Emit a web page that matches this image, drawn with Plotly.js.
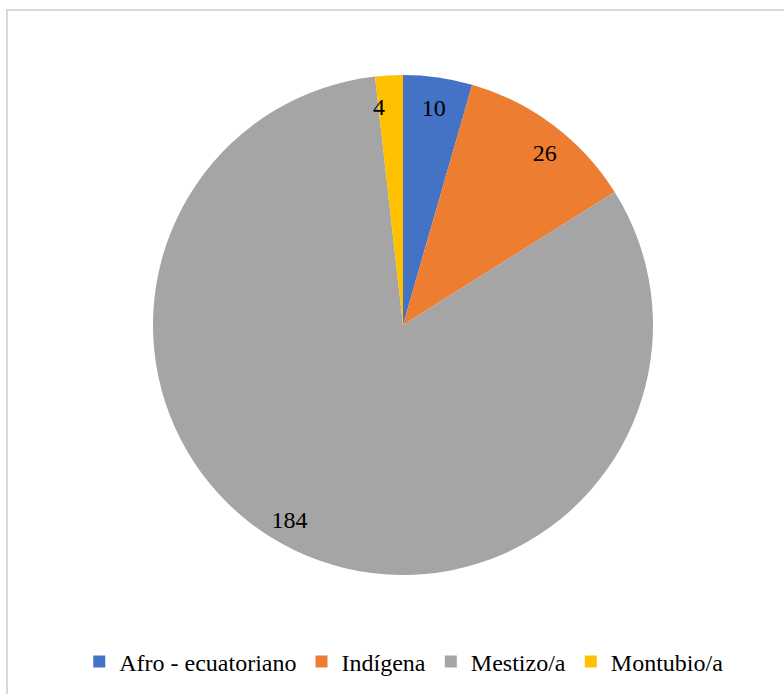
<!DOCTYPE html>
<html>
<head>
<meta charset="utf-8">
<script src="https://cdn.plot.ly/plotly-3.0.1.min.js"></script>
<style>
  html, body { margin: 0; padding: 0; background: #ffffff; overflow: hidden; }
  #wrap { position: relative; width: 784px; height: 694px; }
  #chart { position: absolute; left: 0; top: 0; width: 784px; height: 694px; }
  #frame { position: absolute; left: 6px; top: 9px; width: 900px; height: 900px;
           border: 2px solid #d9d9d9; pointer-events: none; z-index: 5; }
</style>
</head>
<body>
<div id="wrap">
  <div id="chart"></div>
  <div id="frame"></div>
</div>
<script>
const categories = ["Afro - ecuatoriano", "Indígena", "Mestizo/a", "Montubio/a"];
const values = [10, 26, 184, 4];
const colors = ["#4472C4", "#ED7D31", "#A5A5A5", "#FFC000"];

const W = 784, H = 694;
const cx = 403, R = 250, rLab = 205;
const serif = "Liberation Serif";

const mainPie = {
  type: "pie",
  labels: categories,
  values: values,
  sort: false,
  direction: "clockwise",
  rotation: 0,
  marker: { colors: colors, line: { width: 0 } },
  textinfo: "value",
  textposition: ["inside", "none", "none", "none"],
  insidetextorientation: "horizontal",
  insidetextfont: { family: serif, size: 24, color: "#000000" },
  hoverinfo: "label+value",
  domain: { x: [(cx - R) / W, (cx + R) / W], y: [0, 1] },
  showlegend: true
};

// transparent overlay pie used only to place value labels near the outer rim
const labelPie = {
  type: "pie",
  labels: categories,
  values: values,
  sort: false,
  direction: "clockwise",
  rotation: 0,
  marker: { colors: categories.map(() => "rgba(0,0,0,0)"), line: { width: 0 } },
  textinfo: "value",
  textposition: ["none", "outside", "outside", "outside"],
  outsidetextfont: { family: serif, size: 24, color: "#000000" },
  hoverinfo: "skip",
  domain: { x: [(cx - rLab) / W, (cx + rLab) / W], y: [0.5 - rLab / 500, 0.5 + rLab / 500] },
  showlegend: false
};

const layout = {
  width: W,
  height: H,
  margin: { l: 0, r: 0, t: 75, b: 119 },
  paper_bgcolor: "#ffffff",
  font: { family: serif, size: 24, color: "#000000" },
  showlegend: true,
  legend: {
    orientation: "h",
    x: 0.515,
    xanchor: "center",
    y: -0.174,
    yanchor: "middle",
    font: { family: serif, size: 24, color: "#000000" },
    traceorder: "normal"
  }
};

Plotly.newPlot("chart", [mainPie, labelPie], layout, { displayModeBar: false, staticPlot: true });
</script>
</body>
</html>
